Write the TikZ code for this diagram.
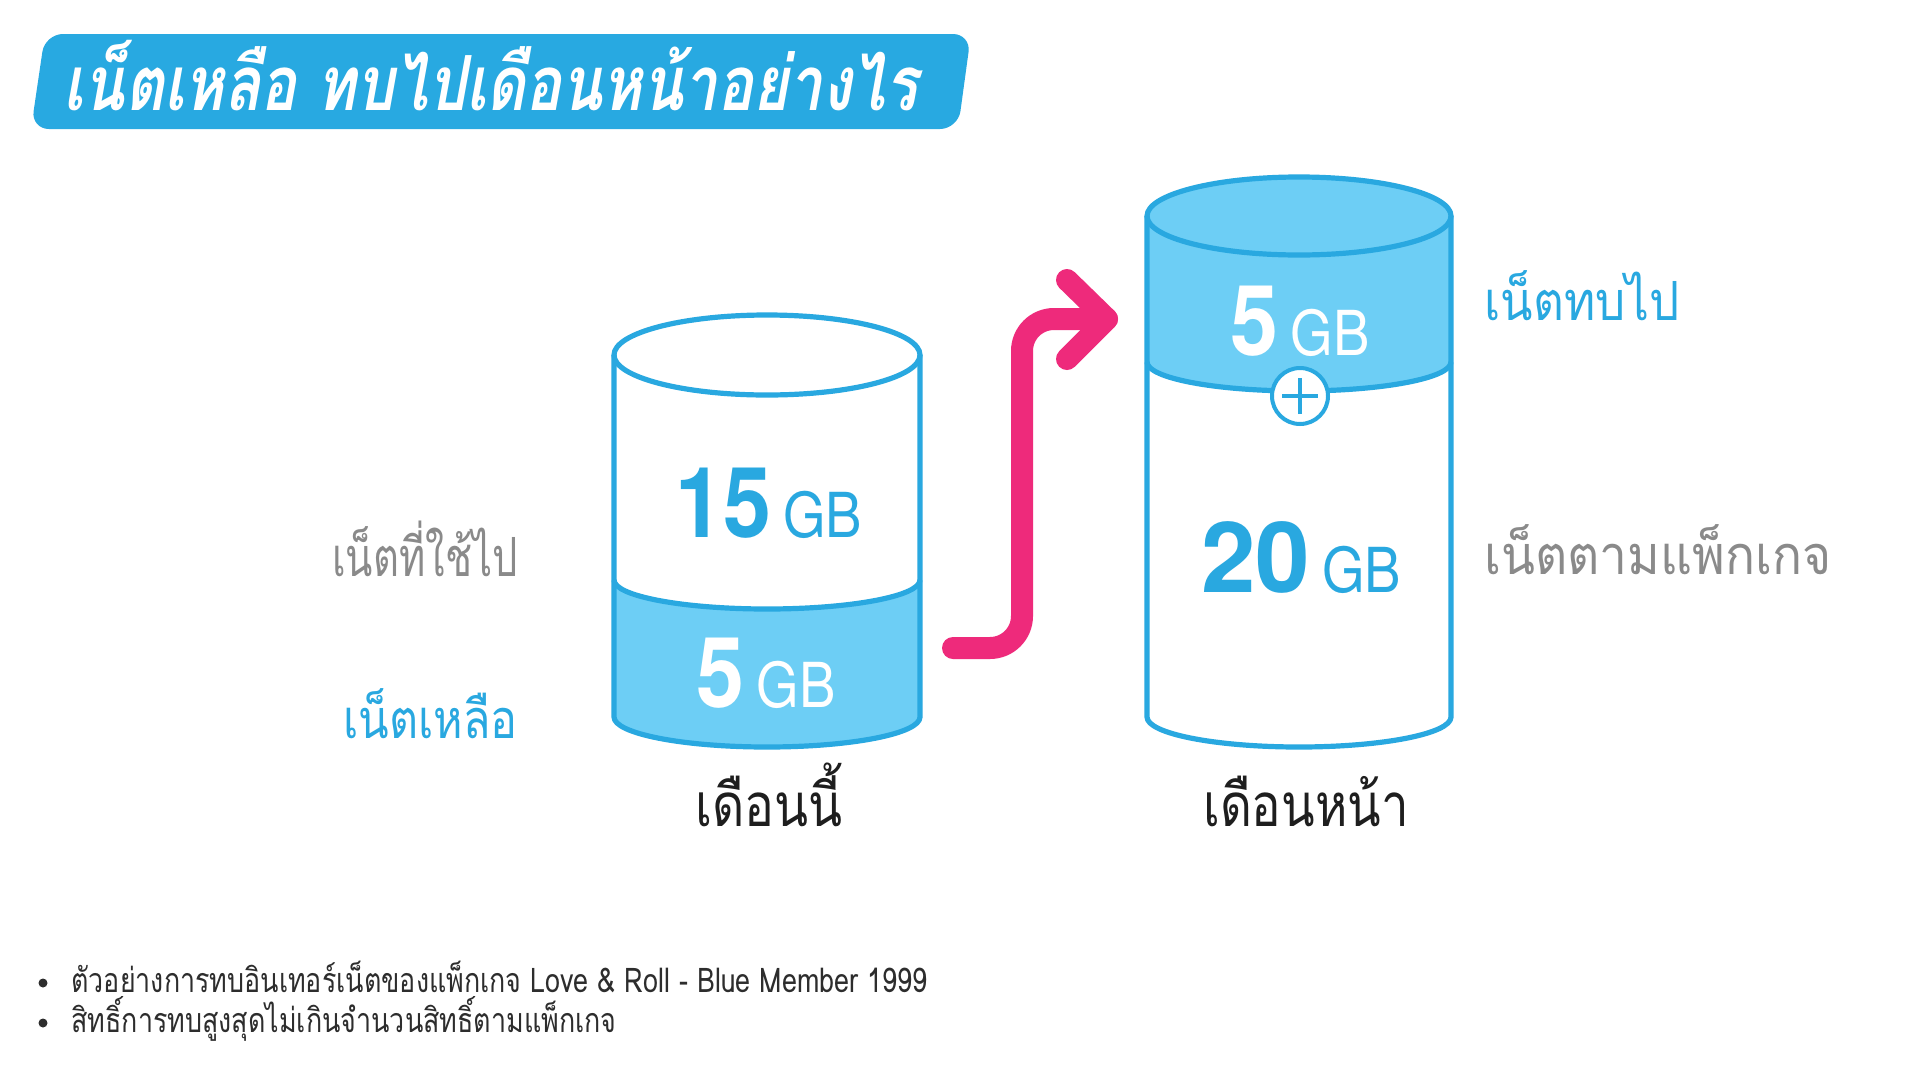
\documentclass[tikz,border=0pt]{standalone}
\usepackage{fontspec}
\usepackage{graphicx}
\setmainfont{Liberation Sans}
\newfontfamily\thai[Script=Thai]{Loma}
\newfontfamily\thaititle[Script=Thai,FakeSlant=0.18,FakeStretch=0.79]{Loma}
\newfontfamily\thainote[Script=Thai,FakeStretch=0.79]{Loma}
\newfontfamily\numfont[FakeStretch=0.88]{TeX Gyre Heros}
\newfontfamily\numwide[FakeStretch=1.0]{TeX Gyre Heros}
\definecolor{blueline}{RGB}{41,168,224}
\definecolor{bluefill}{RGB}{109,206,245}
\definecolor{titleblue}{RGB}{40,169,225}
\definecolor{arrowpink}{RGB}{238,42,123}
\definecolor{labelgray}{RGB}{138,138,138}
\definecolor{labeldark}{RGB}{30,30,30}
\definecolor{notegray}{RGB}{45,45,45}
\tikzset{
  cylline/.style={draw=blueline, line width=2.6pt, line join=round},
  numtext/.style={inner sep=0pt, anchor=base},
  sidelabel/.style={inner sep=0pt, font=\thai\fontsize{27pt}{32pt}\selectfont},
  monthlabel/.style={inner sep=0pt, anchor=base, text=labeldark, font=\thai\fontsize{30pt}{36pt}\selectfont},
  notetext/.style={inner sep=0pt, anchor=base west, text=notegray, font=\thainote\fontsize{17pt}{20pt}\selectfont},
  bulletdot/.style={circle, fill=notegray, inner sep=0pt, minimum size=4.5pt},
}
\newcommand{\bignum}[1]{{\numfont\bfseries\fontsize{49pt}{56pt}\selectfont #1}}
\newcommand{\widenum}[1]{{\numwide\bfseries\fontsize{49pt}{56pt}\selectfont #1}}
\newcommand{\gbunit}{{\numfont\fontsize{31pt}{36pt}\selectfont GB}}
\newcommand{\hsq}[2]{\scalebox{#1}[1]{#2}}
\begin{document}
\begin{tikzpicture}[x=0.5pt,y=-0.5pt]
\useasboundingbox (0,0) rectangle (1928,1066);
\fill[white] (0,0) rectangle (1928,1066);

% title banner
\fill[titleblue, rounded corners=9pt] (45,34) -- (971,34) -- (958,129) -- (31,129) -- cycle;
\node[anchor=base west, inner sep=0pt, text=white, font=\thaititle\bfseries\fontsize{38pt}{44pt}\selectfont] (title) at (63,110) {เน็ตเหลือ ทบไปเดือนหน้าอย่างไร};

% ---------- left cylinder (this month) ----------
\fill[bluefill] (614,580) arc[start angle=180,end angle=0,x radius=153,y radius=29]
   -- (920,717) arc[start angle=0,end angle=180,x radius=153,y radius=30] -- cycle;
\draw[cylline] (614,355) -- (614,717) arc[start angle=180,end angle=0,x radius=153,y radius=30] -- (920,355);
\draw[cylline] (767,355) ellipse[x radius=153, y radius=40];
\draw[cylline] (614,580) arc[start angle=180,end angle=0,x radius=153,y radius=29];

\node[numtext, text=blueline] (used) at (769,537) {\bignum{15}\hspace{6pt}\gbunit};
\node[numtext, text=white] (left) at (766,707) {\bignum{5}\hspace{6pt}\gbunit};

% ---------- right cylinder (next month) ----------
\fill[bluefill] (1147,216) -- (1147,362) arc[start angle=180,end angle=0,x radius=152,y radius=29]
   -- (1451,216) arc[start angle=0,end angle=-180,x radius=152,y radius=39] -- cycle;
\draw[cylline] (1147,216) -- (1147,717) arc[start angle=180,end angle=0,x radius=152,y radius=30] -- (1451,216);
\draw[cylline] (1299,216) ellipse[x radius=152, y radius=39];
\draw[cylline] (1147,362) arc[start angle=180,end angle=0,x radius=152,y radius=29];

\node[circle, draw=blueline, fill=white, line width=2pt, minimum size=28pt, inner sep=0pt] (plus) at (1300,396) {};
\draw[blueline, line width=2.3pt] ([xshift=-9pt]plus.center) -- ([xshift=9pt]plus.center);
\draw[blueline, line width=2.3pt] ([yshift=-9pt]plus.center) -- ([yshift=9pt]plus.center);

\node[numtext, text=white] (carry) at (1300,355) {\bignum{5}\hspace{6pt}\gbunit};
\node[numtext, text=blueline] (pkg) at (1301,592) {\widenum{20}\hspace{6pt}\gbunit};

% ---------- pink arrow ----------
\coordinate (arrowstart) at (953,648);
\coordinate (arrowtip) at (1107,319);
\draw[arrowpink, line width=11pt, line cap=round, rounded corners=16pt]
   (arrowstart) -- (1022,648) -- (1022,319) -- (arrowtip);
\draw[arrowpink, line width=11pt, line cap=round, line join=round]
   (1067,280) -- (arrowtip) -- (1067,359);

% ---------- labels ----------
\node[sidelabel, anchor=base east, text=labelgray] (usedlbl) at (518,576) {\hsq{0.74}{เน็ตที่ใช้ไป}};
\node[sidelabel, anchor=base east, text=blueline] (leftlbl) at (518,738) {\hsq{0.83}{เน็ตเหลือ}};
\node[sidelabel, anchor=base west, text=blueline] (carrylbl) at (1484,320) {\hsq{0.88}{เน็ตทบไป}};
\node[sidelabel, anchor=base west, text=labelgray] (pkglbl) at (1484,574) {\hsq{0.92}{เน็ตตามแพ็กเกจ}};
\node[monthlabel] (thismonth) at (769,826) {\hsq{0.83}{เดือนนี้}};
\node[monthlabel] (nextmonth) at (1306,826) {\hsq{0.82}{เดือนหน้า}};

% ---------- notes ----------
\node[bulletdot] (b1) at (43,983) {};
\node[bulletdot] (b2) at (43,1023) {};
\node[notetext] (note1) at (71,992) {ตัวอย่างการทบอินเทอร์เน็ตของแพ็กเกจ Love \& Roll - Blue Member 1999};
\node[notetext] (note2) at (71,1032) {สิทธิ์การทบสูงสุดไม่เกินจำนวนสิทธิ์ตามแพ็กเกจ};
\end{tikzpicture}
\end{document}
